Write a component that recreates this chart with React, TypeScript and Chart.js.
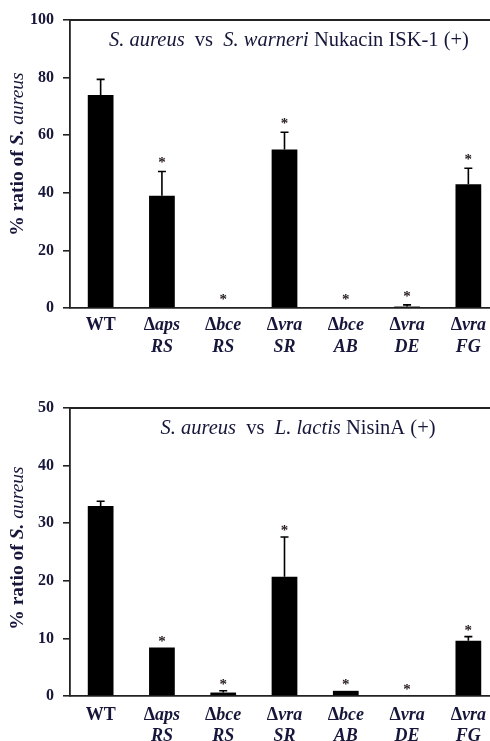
import React, { useEffect, useRef } from "react";
import { Chart, registerables } from "chart.js";

Chart.register(...registerables);

// ---- data ----
const strainLine1 = ["WT", "Δaps", "Δbce", "Δvra", "Δbce", "Δvra", "Δvra"];
const strainLine2 = ["", "RS", "RS", "SR", "AB", "DE", "FG"];

const nukacinValues = [74, 39, 0, 55, 0, 0.5, 43];
const nukacinErrorTop: (number | null)[] = [79.4, 47.4, null, 61, null, 1.1, 48.5];
const nukacinSignificant = [false, true, true, true, true, true, true];
const nukacinTicks = [0, 20, 40, 60, 80, 100];

const nisinValues = [33, 8.4, 0.6, 20.7, 0.9, 0, 9.6];
const nisinErrorTop: (number | null)[] = [33.8, null, 0.9, 27.6, null, null, 10.3];
const nisinSignificant = [false, true, true, true, true, true, true];
const nisinTicks = [0, 10, 20, 30, 40, 50];

type Run = [string, string];
const nukacinTitle: Run[] = [
  ["S. aureus", "italic"],
  ["  vs  ", "normal"],
  ["S. warneri", "italic"],
  [" Nukacin ISK-1 (+)", "normal"],
];
const nisinTitle: Run[] = [
  ["S. aureus", "italic"],
  ["  vs  ", "normal"],
  ["L. lactis", "italic"],
  [" NisinA (+)", "normal"],
];
const yTitleRuns: Run[] = [
  ["% ratio of ", "bold"],
  ["S. ", "italic bold"],
  ["aureus", "italic"],
];

const FONT = '"Liberation Serif", "Times New Roman", serif';
const TEXT = "#16163a";
const AXIS = "#222";

function drawRuns(
  ctx: CanvasRenderingContext2D,
  runs: Run[],
  x: number,
  y: number,
  size: number,
  align: "center" | "left"
) {
  const widths = runs.map(([t, st]) => {
    ctx.font = `${st} ${size}px ${FONT}`;
    return ctx.measureText(t).width;
  });
  const total = widths.reduce((a, b) => a + b, 0);
  let cx = align === "center" ? x - total / 2 : x;
  ctx.textAlign = "left";
  runs.forEach(([t, st], i) => {
    ctx.font = `${st} ${size}px ${FONT}`;
    ctx.fillText(t, cx, y);
    cx += widths[i];
  });
}

interface PanelProps {
  values: number[];
  errTop: (number | null)[];
  sig: boolean[];
  ticks: number[];
  title: Run[];
  width: number;
  height: number;
  padTop: number;
  xHeight: number;
  titleX: number;
  titleY: number;
  yTitleY: number;
  label1Dy: number;
  label2Dy: number;
  starGap: number;
}

function BarPanel(p: PanelProps) {
  const ref = useRef<HTMLCanvasElement | null>(null);
  useEffect(() => {
    if (!ref.current) return;
    const overlay = {
      id: "overlay",
      afterDatasetsDraw(chart: any) {
        const ctx = chart.ctx as CanvasRenderingContext2D;
        const y = chart.scales.y;
        const meta = chart.getDatasetMeta(0);
        ctx.save();
        ctx.strokeStyle = "#000";
        ctx.lineWidth = 1.6;
        p.values.forEach((v, i) => {
          const bar = meta.data[i];
          const x = bar.x;
          const e = p.errTop[i];
          let top = y.getPixelForValue(v);
          if (e !== null && e !== undefined) {
            const ey = y.getPixelForValue(e);
            ctx.beginPath();
            ctx.moveTo(x, top);
            ctx.lineTo(x, ey);
            ctx.moveTo(x - 4, ey);
            ctx.lineTo(x + 4, ey);
            ctx.stroke();
            top = ey;
          }
          if (p.sig[i]) {
            ctx.fillStyle = "#2a2020";
            ctx.font = `bold 15px ${FONT}`;
            ctx.textAlign = "center";
            ctx.textBaseline = "alphabetic";
            ctx.fillText("*", x, top - p.starGap);
          }
        });
        ctx.restore();
      },
      afterDraw(chart: any) {
        const ctx = chart.ctx as CanvasRenderingContext2D;
        const area = chart.chartArea;
        const xs = chart.scales.x;
        ctx.save();
        // top frame line
        ctx.strokeStyle = AXIS;
        ctx.lineWidth = 1.8;
        ctx.beginPath();
        ctx.moveTo(area.left, area.top);
        ctx.lineTo(area.right, area.top);
        ctx.stroke();
        // title
        ctx.fillStyle = TEXT;
        ctx.textBaseline = "alphabetic";
        drawRuns(ctx, p.title, p.titleX, p.titleY, 20.5, "center");
        // x labels
        ctx.textBaseline = "middle";
        strainLine1.forEach((l1, i) => {
          const x = xs.getPixelForValue(i);
          if (l1.startsWith("Δ")) {
            drawRuns(ctx, [["Δ", "bold"], [l1.slice(1), "italic bold"]], x, area.bottom + p.label1Dy, 18, "center");
          } else {
            drawRuns(ctx, [[l1, "bold"]], x, area.bottom + p.label1Dy, 18, "center");
          }
          const l2 = strainLine2[i];
          if (l2) drawRuns(ctx, [[l2, "italic bold"]], x, area.bottom + p.label2Dy, 18, "center");
        });
        // y title
        ctx.save();
        ctx.translate(18, p.yTitleY);
        ctx.rotate(-Math.PI / 2);
        ctx.textBaseline = "middle";
        drawRuns(ctx, yTitleRuns, 0, 0, 19.5, "center");
        ctx.restore();
        ctx.restore();
      },
    };
    const chart = new Chart(ref.current, {
      type: "bar",
      data: {
        labels: strainLine1.map((l, i) => (strainLine2[i] ? `${l} ${strainLine2[i]}` : l)),
        datasets: [
          {
            data: p.values,
            backgroundColor: "#000",
            borderWidth: 0,
            barPercentage: 0.42,
            categoryPercentage: 1,
          },
        ],
      },
      options: {
        responsive: false,
        animation: false,
        devicePixelRatio: 1,
        layout: { padding: { top: p.padTop, left: 0, right: 0, bottom: 0 } },
        plugins: { legend: { display: false }, tooltip: { enabled: false }, title: { display: false } },
        scales: {
          x: {
            type: "category",
            grid: { display: false },
            border: { display: true, color: AXIS, width: 1.8 },
            ticks: { display: false },
            afterFit: (s: any) => {
              s.height = p.xHeight;
            },
          },
          y: {
            min: p.ticks[0],
            max: p.ticks[p.ticks.length - 1],
            afterBuildTicks: (s: any) => {
              s.ticks = p.ticks.map((v) => ({ value: v }));
            },
            grid: { display: true, drawOnChartArea: false, drawTicks: true, tickLength: 7, color: AXIS, lineWidth: 1.6 },
            border: { display: true, color: AXIS, width: 1.8 },
            ticks: {
              color: TEXT,
              padding: 9,
              font: { family: FONT, size: 16, weight: "bold" },
            },
            afterFit: (s: any) => {
              s.width = 70;
            },
          },
        },
      },
      plugins: [overlay],
    } as any);
    return () => chart.destroy();
  }, []);
  return <canvas ref={ref} width={p.width} height={p.height} style={{ display: "block", width: p.width, height: p.height }} />;
}

export default function App() {
  return (
    <div
      style={{
        position: "absolute",
        left: 0,
        top: 0,
        width: 490,
        height: 741,
        overflow: "hidden",
        background: "#fff",
      }}
    >
      <div style={{ position: "absolute", left: 0, top: 0 }}>
        <BarPanel
          values={nukacinValues}
          errTop={nukacinErrorTop}
          sig={nukacinSignificant}
          ticks={nukacinTicks}
          title={nukacinTitle}
          width={499}
          height={370}
          padTop={20}
          xHeight={62}
          titleX={289}
          titleY={46}
          yTitleY={154}
          label1Dy={17}
          label2Dy={39}
          starGap={4}
        />
      </div>
      <div style={{ position: "absolute", left: 0, top: 370 }}>
        <BarPanel
          values={nisinValues}
          errTop={nisinErrorTop}
          sig={nisinSignificant}
          ticks={nisinTicks}
          title={nisinTitle}
          width={499}
          height={371}
          padTop={38}
          xHeight={45}
          titleX={298}
          titleY={64}
          yTitleY={178}
          label1Dy={19}
          label2Dy={40}
          starGap={2}
        />
      </div>
    </div>
  );
}
